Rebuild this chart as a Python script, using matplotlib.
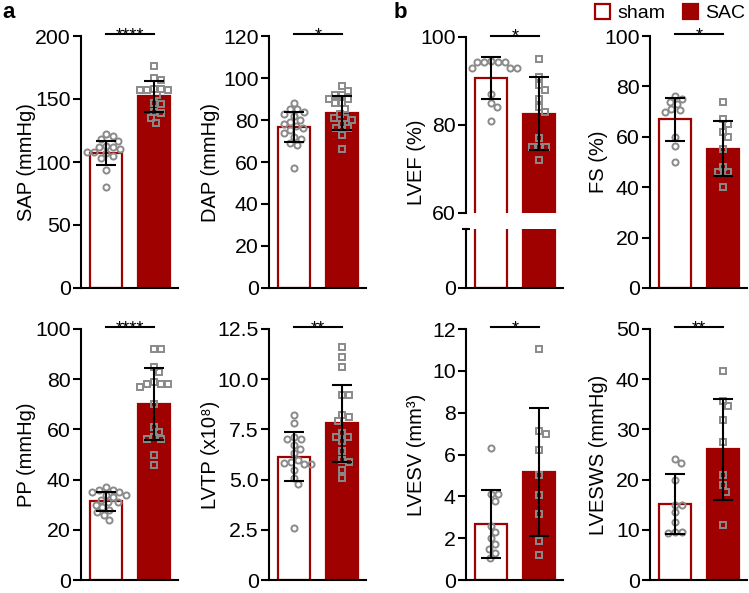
import numpy as np
import matplotlib
matplotlib.use('Agg')
import matplotlib.pyplot as plt
from matplotlib.patches import Patch

plt.rcParams['font.family'] = ['Liberation Sans', 'DejaVu Sans']

# ---- data (sham, SAC) ----
sap_sham = [122, 121, 118, 117, 113, 112, 112, 110, 108, 108, 107, 105, 103, 94, 80]
sap_sac = [176, 167, 165, 158, 158, 157, 157, 157, 153, 147, 146, 140, 139, 135, 131]
sap_mean = [107.5, 152.0]
sap_sd = [9.5, 12.0]

dap_sham = [88, 85, 85, 84, 83, 82, 80, 79, 78, 77, 76, 75, 74, 72, 71, 69, 68, 57]
dap_sac = [96, 94, 92, 92, 90, 90, 88, 88, 85, 83, 81, 81, 80, 78, 76, 76, 73, 66]
dap_mean = [76.8, 83.3]
dap_sd = [7.1, 8.1]

lvef_sham = [94.5, 94.3, 94.3, 94.3, 94.3, 93, 93, 93, 87, 85, 84, 81]
lvef_sac = [95, 91, 89, 88, 86, 84, 83, 77, 75, 75, 75, 72]
lvef_mean = [90.7, 82.6]
lvef_sd = [4.8, 8.3]

fs_sham = [76, 75, 74, 73, 71, 70.5, 70, 60, 56.5, 50]
fs_sac = [74, 67, 65, 62, 60, 55, 48, 46, 46, 40]
fs_mean = [66.9, 55.3]
fs_sd = [8.6, 10.9]

pp_sham = [37, 36, 36, 35, 35, 34, 34, 33, 32, 31, 31, 30, 29, 28, 27, 26, 24]
pp_sac = [92, 92, 85, 83, 79, 78, 78, 78, 77, 70, 61, 59, 57, 56, 56, 50, 46]
pp_mean = [31.3, 70.0]
pp_sd = [3.8, 14.4]

lvtp_sham = [8.2, 7.8, 7.1, 7.0, 7.0, 6.7, 6.5, 6.3, 6.0, 5.9, 5.85, 5.8, 5.8, 5.5, 5.1, 4.8, 2.6]
lvtp_sac = [11.6, 11.1, 10.6, 9.2, 9.2, 8.2, 8.1, 7.9, 7.3, 7.1, 7.1, 6.9, 6.4, 6.0, 5.9, 5.5, 5.1]
lvtp_mean = [6.14, 7.8]
lvtp_sd = [1.21, 1.92]

lvesv_sham = [6.3, 4.1, 4.1, 3.8, 2.6, 2.3, 2.0, 1.7, 1.5, 1.3, 1.05]
lvesv_sac = [11.05, 7.1, 7.0, 6.2, 5.0, 4.05, 3.15, 1.85, 1.2]
lvesv_mean = [2.67, 5.17]
lvesv_sd = [1.62, 3.05]

lvesws_sham = [24.1, 23.4, 20, 15, 15, 13.5, 11.5, 9.5, 9.5, 9.4]
lvesws_sac = [41.6, 35.7, 34.6, 31.9, 27.4, 21, 18.9, 17.6, 10.9]
lvesws_mean = [15.1, 26.0]
lvesws_sd = [5.95, 10.05]

groups = ['sham', 'SAC']

RED = '#9f0000'
GREY = '#8a8a8a'
W, H = 749, 593
XLIM = (-0.52, 1.5)

fig = plt.figure(figsize=(W / 100, H / 100), dpi=100)


def px_axes(left, top, right, bottom):
    return fig.add_axes([left / W, 1 - bottom / H, (right - left) / W, (bottom - top) / H])


def swarm(vals, ppu, d):
    """simple beeswarm offsets in pixels"""
    ys = np.asarray(vals, float) * ppu
    xs = np.zeros(len(ys))
    done = []
    for i in np.argsort(-ys):
        cands = [0.0]
        for j in done:
            dy = ys[i] - ys[j]
            if abs(dy) < d:
                dx = np.sqrt(d * d - dy * dy)
                cands += [xs[j] + dx, xs[j] - dx]
        cands.sort(key=abs)
        for c in cands:
            if all((c - xs[j]) ** 2 + (ys[i] - ys[j]) ** 2 >= d * d - 1e-6 for j in done):
                xs[i] = c
                break
        done.append(i)
    return xs


def style(ax, ticks, ticklabels=None, ylim=None):
    for s in ['top', 'right']:
        ax.spines[s].set_visible(False)
    ax.spines['left'].set_linewidth(1.5)
    ax.spines['bottom'].set_linewidth(1.5)
    ax.set_xlim(XLIM)
    ax.set_xticks([])
    ax.set_ylim(ylim)
    ax.set_yticks(ticks)
    if ticklabels is not None:
        ax.set_yticklabels(ticklabels)
    ax.tick_params(axis='y', width=1.5, length=6, labelsize=15.3, pad=1.5)


def bars(ax, mean):
    ax.bar([0, 1], mean, width=0.66, color=['white', RED], edgecolor=RED,
           linewidth=1.6, zorder=1)


def dots(ax, sham, sac, mean, sd, ylim):
    pos = ax.get_position()
    ppu = pos.height * H / (ylim[1] - ylim[0])
    dpp = (XLIM[1] - XLIM[0]) / (pos.width * W)
    for i, (vals, mk) in enumerate([(sham, 'o'), (sac, 's')]):
        off = swarm(vals, ppu, 7.2) * dpp
        ax.plot(i + off, vals, mk, ls='none', mfc='none', mec=GREY, mew=1.4,
                ms=4.4, zorder=2, clip_on=False)
    ax.errorbar([0, 1], mean, yerr=sd, fmt='none', ecolor='black',
                elinewidth=1.5, capsize=7, capthick=1.5, zorder=3)


def sig(ax, text, ylim):
    y = ylim[1] + 0.006 * (ylim[1] - ylim[0])
    ax.plot([0, 1], [y, y], color='black', lw=1.5, clip_on=False)
    ax.annotate(text, (0.5, y), xytext=(0, -4), textcoords='offset points',
                ha='center', va='baseline', fontsize=13, annotation_clip=False)


lefts = [81, 269, 466, 650]
AXW = 97
TOP1, BOT1 = 36, 288
TOP2, BOT2 = 329, 580
label_x = [27, 211, 416, 598]

panels = [
    (0, TOP1, BOT1, 'SAP (mmHg)', [0, 50, 100, 150, 200], None, (0, 200),
     sap_sham, sap_sac, sap_mean, sap_sd, '****'),
    (1, TOP1, BOT1, 'DAP (mmHg)', [0, 20, 40, 60, 80, 100, 120], None, (0, 120),
     dap_sham, dap_sac, dap_mean, dap_sd, '*'),
    (3, TOP1, BOT1, 'FS (%)', [0, 20, 40, 60, 80, 100], None, (0, 100),
     fs_sham, fs_sac, fs_mean, fs_sd, '*'),
    (0, TOP2, BOT2, 'PP (mmHg)', [0, 20, 40, 60, 80, 100], None, (0, 100),
     pp_sham, pp_sac, pp_mean, pp_sd, '****'),
    (1, TOP2, BOT2, 'LVTP (x10⁸)', [0, 2.5, 5, 7.5, 10, 12.5],
     ['0', '2.5', '5.0', '7.5', '10.0', '12.5'], (0, 12.5),
     lvtp_sham, lvtp_sac, lvtp_mean, lvtp_sd, '**'),
    (2, TOP2, BOT2, 'LVESV (mm³)', [0, 2, 4, 6, 8, 10, 12], None, (0, 12),
     lvesv_sham, lvesv_sac, lvesv_mean, lvesv_sd, '*'),
    (3, TOP2, BOT2, 'LVESWS (mmHg)', [0, 10, 20, 30, 40, 50], None, (0, 50),
     lvesws_sham, lvesws_sac, lvesws_mean, lvesws_sd, '**'),
]

for col, top, bot, ylabel, ticks, tlabels, ylim, sham, sac, mean, sd, stars in panels:
    ax = px_axes(lefts[col], top, lefts[col] + AXW, bot)
    style(ax, ticks, tlabels, ylim)
    bars(ax, mean)
    dots(ax, sham, sac, mean, sd, ylim)
    sig(ax, stars, ylim)
    fig.text(label_x[col] / W, 1 - (top + bot) / 2 / H, ylabel, rotation=90,
             ha='center', va='center', fontsize=14.5)

# LVEF with broken y axis
up = px_axes(lefts[2], 37, lefts[2] + AXW, 213)
style(up, [60, 80, 100], None, (60, 100))
up.spines['bottom'].set_visible(False)
bars(up, lvef_mean)
dots(up, lvef_sham, lvef_sac, lvef_mean, lvef_sd, (60, 100))
sig(up, '*', (60, 100))

low = px_axes(lefts[2], 229, lefts[2] + AXW, 288)
style(low, [0], None, (0, 13.5))
bars(low, lvef_mean)
low.plot([-0.045, 0.045], [1, 1], transform=low.transAxes, color='black',
         lw=1.5, clip_on=False, solid_capstyle='butt')
fig.text(label_x[2] / W, 1 - (37 + 288) / 2 / H, 'LVEF (%)', rotation=90,
         ha='center', va='center', fontsize=14.5)

# panel letters
fig.text(2 / W, 1 - 2 / H, 'a', fontsize=16, fontweight='bold', va='top', ha='left')
fig.text(394 / W, 1 - 2 / H, 'b', fontsize=16, fontweight='bold', va='top', ha='left')

handles = [Patch(facecolor='white', edgecolor=RED, linewidth=1.6),
           Patch(facecolor=RED, edgecolor=RED, linewidth=1.6)]
fig.legend(handles, groups, ncol=2, frameon=False, fontsize=14,
           handlelength=0.8, handleheight=0.8, handletextpad=0.35,
           columnspacing=0.9, loc='upper right', bbox_to_anchor=(1.0, 1.0),
           borderaxespad=0.1, borderpad=0.1)

fig.savefig('out.png', dpi=100)
